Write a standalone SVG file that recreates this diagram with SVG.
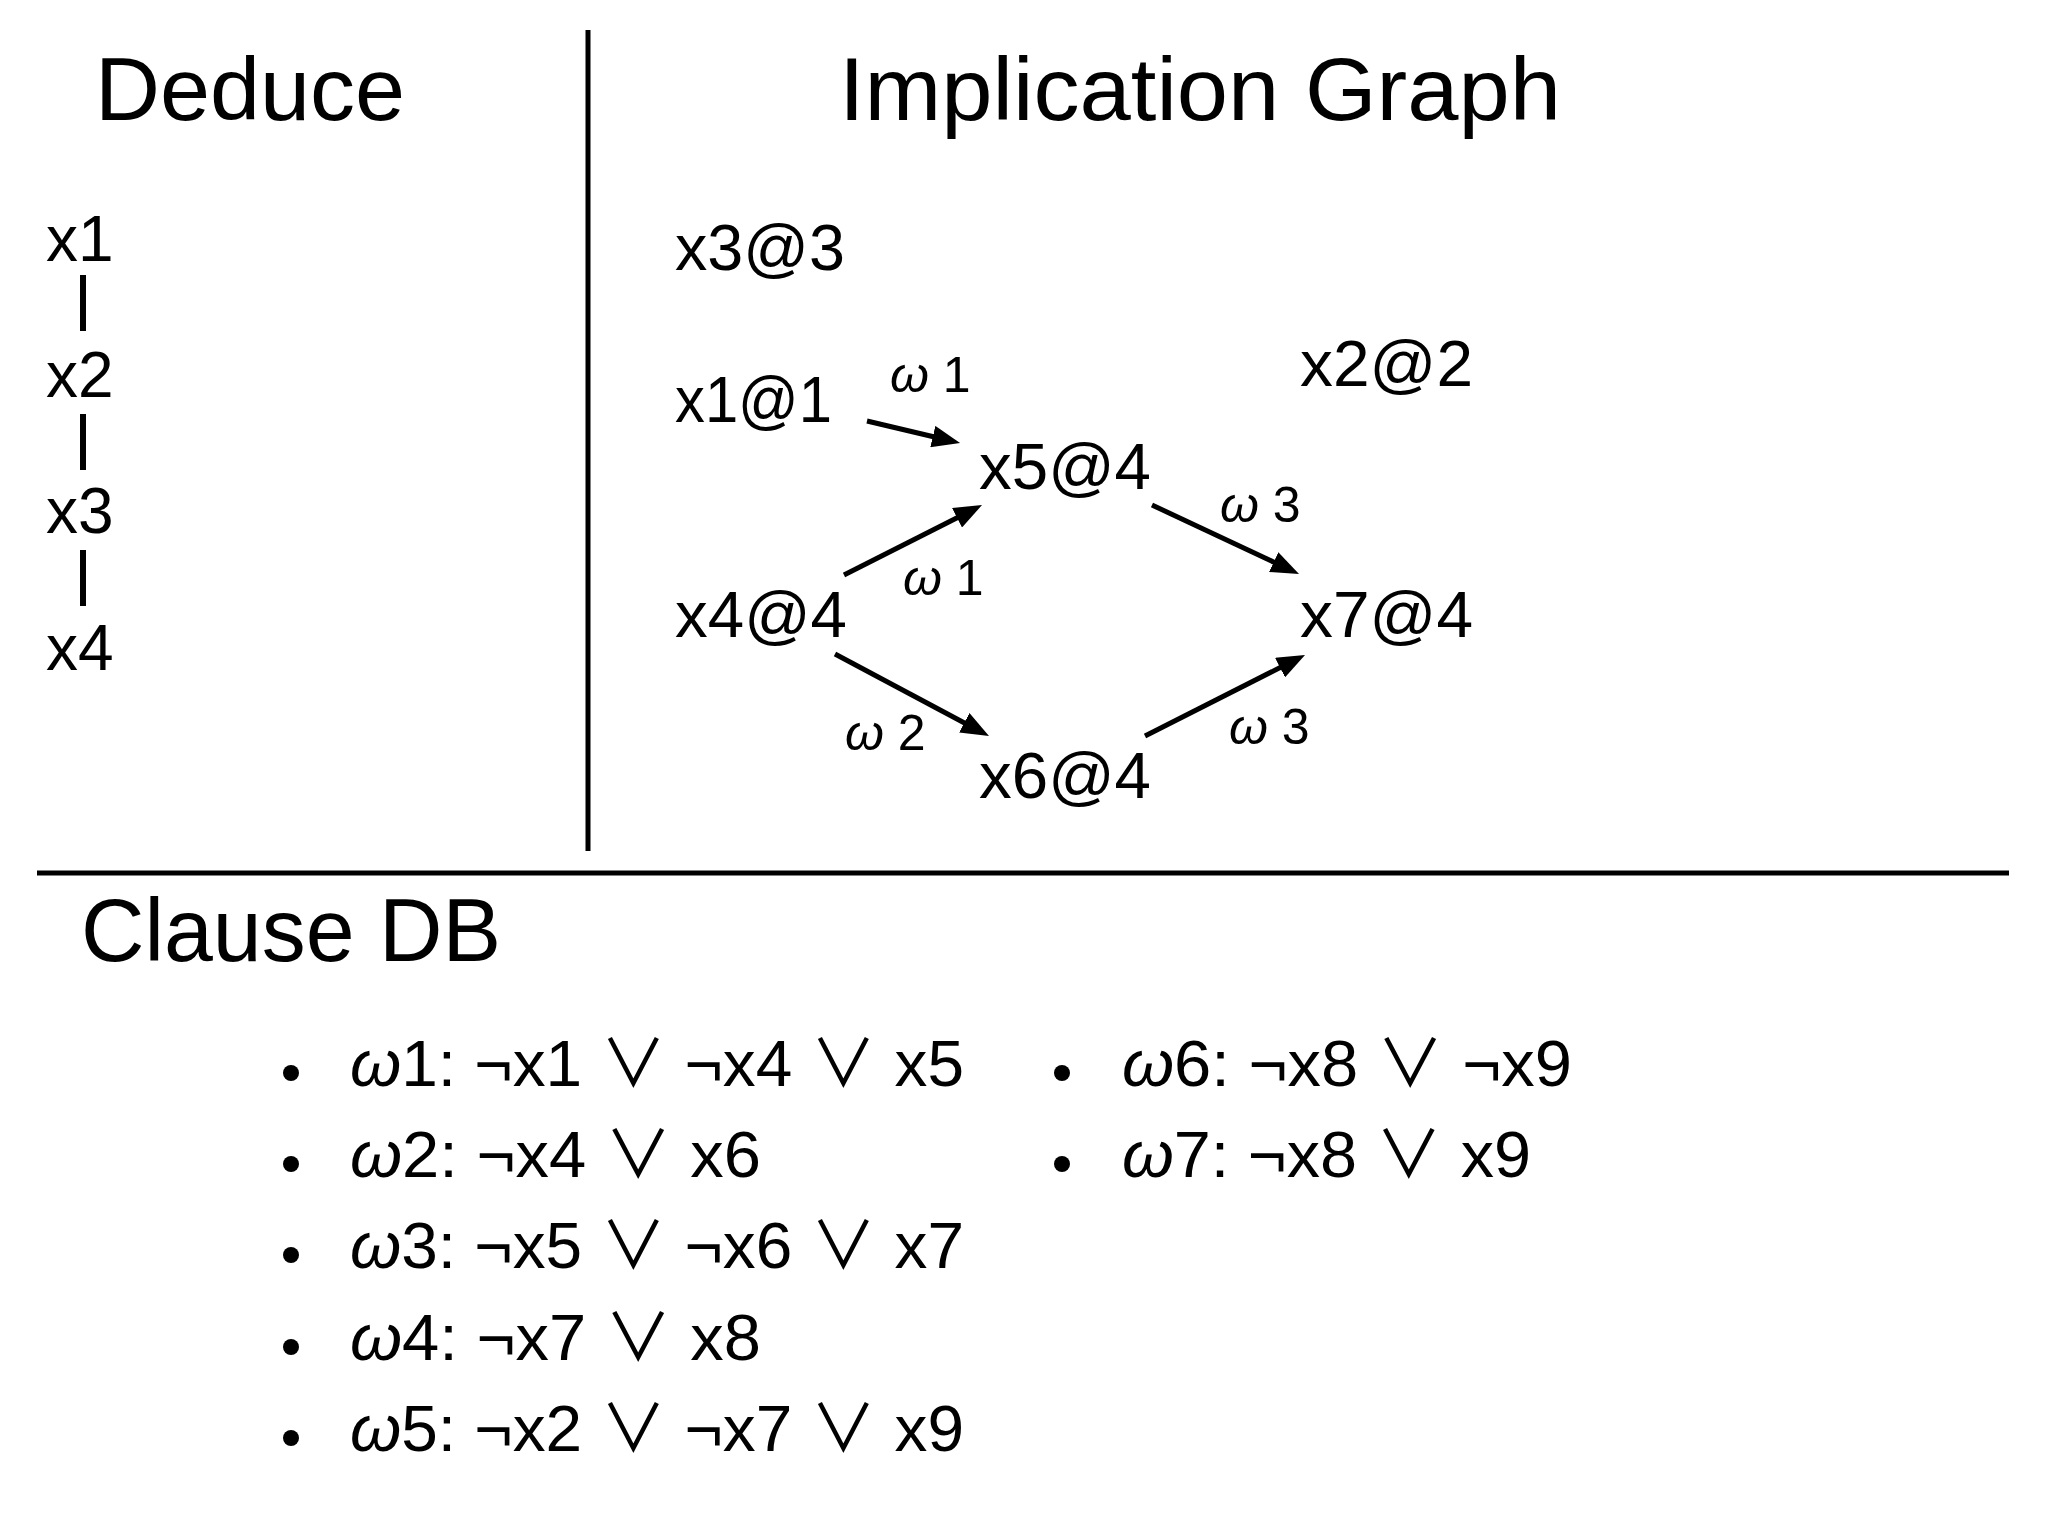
<svg xmlns="http://www.w3.org/2000/svg" width="2048" height="1536" viewBox="0 0 2048 1536">
<defs>
<style>
text{font-family:"Liberation Sans","Noto Sans CJK JP","DejaVu Sans",sans-serif;fill:#000}
.title{font-size:89px}
.node{font-size:64px}
.lbl{font-size:50px}
.clause{font-size:65px}
.w{font-style:italic}
.rule{stroke:#000;stroke-width:5;fill:none}
.edge{stroke:#000;stroke-width:5;fill:none;marker-end:url(#arr)}
.bar{stroke:#000;stroke-width:6}
</style>
<marker id="arr" markerUnits="userSpaceOnUse" markerWidth="28" markerHeight="22" refX="4" refY="11" orient="auto">
<path d="M0,0 L28,11 L0,22 z" fill="#000"/>
</marker>
</defs>
<rect width="2048" height="1536" fill="#fff"/>

<g id="frame">
<line class="rule" x1="588" y1="30" x2="588" y2="851"/>
<line class="rule" x1="37" y1="873" x2="2009" y2="873"/>
</g>

<g id="titles">
<text class="title" x="95" y="120" textLength="310" lengthAdjust="spacingAndGlyphs">Deduce</text>
<text class="title" x="839" y="120" textLength="722" lengthAdjust="spacingAndGlyphs">Implication Graph</text>
<text class="title" x="81" y="961" textLength="420" lengthAdjust="spacingAndGlyphs">Clause DB</text>
</g>

<g id="deduce">
<text class="node" x="46" y="261">x1</text>
<line class="bar" x1="83" y1="275" x2="83" y2="331"/>
<text class="node" x="46" y="397">x2</text>
<line class="bar" x1="83" y1="414" x2="83" y2="470"/>
<text class="node" x="46" y="533">x3</text>
<line class="bar" x1="83" y1="550" x2="83" y2="606"/>
<text class="node" x="46" y="670">x4</text>
</g>

<g id="connectors">
<line class="edge" x1="867" y1="421" x2="936.7" y2="437.5"/>
<line class="edge" x1="844" y1="575" x2="960.6" y2="515.9"/>
<line class="edge" x1="835" y1="654" x2="967.8" y2="724.7"/>
<line class="edge" x1="1152" y1="505" x2="1277.3" y2="563.8"/>
<line class="edge" x1="1145" y1="736" x2="1283.6" y2="665.8"/>
<text class="lbl" x="890" y="392"><tspan class="w">ω</tspan> 1</text>
<text class="lbl" x="903" y="595"><tspan class="w">ω</tspan> 1</text>
<text class="lbl" x="1220" y="522"><tspan class="w">ω</tspan> 3</text>
<text class="lbl" x="845" y="750"><tspan class="w">ω</tspan> 2</text>
<text class="lbl" x="1229" y="744"><tspan class="w">ω</tspan> 3</text>
</g>

<g id="n-x3"><text class="node" x="675" y="270" textLength="170" lengthAdjust="spacingAndGlyphs">x3@3</text></g>
<g id="n-x1"><text class="node" x="675" y="422" textLength="157" lengthAdjust="spacingAndGlyphs">x1@1</text></g>
<g id="n-x2"><text class="node" x="1300" y="386" textLength="173" lengthAdjust="spacingAndGlyphs">x2@2</text></g>
<g id="n-x5"><text class="node" x="979" y="489" textLength="172" lengthAdjust="spacingAndGlyphs">x5@4</text></g>
<g id="n-x4"><text class="node" x="675" y="637" textLength="172" lengthAdjust="spacingAndGlyphs">x4@4</text></g>
<g id="n-x7"><text class="node" x="1300" y="637" textLength="173" lengthAdjust="spacingAndGlyphs">x7@4</text></g>
<g id="n-x6"><text class="node" x="979" y="798" textLength="172" lengthAdjust="spacingAndGlyphs">x6@4</text></g>

<g id="clauses">
<circle cx="291" cy="1073" r="8"/>
<text class="clause" x="350" y="1086" textLength="614" lengthAdjust="spacingAndGlyphs"><tspan class="w">ω</tspan>1: ¬x1 ∨ ¬x4 ∨ x5</text>
<circle cx="291" cy="1164" r="8"/>
<text class="clause" x="350" y="1177" textLength="411" lengthAdjust="spacingAndGlyphs"><tspan class="w">ω</tspan>2: ¬x4 ∨ x6</text>
<circle cx="291" cy="1255" r="8"/>
<text class="clause" x="350" y="1268" textLength="614" lengthAdjust="spacingAndGlyphs"><tspan class="w">ω</tspan>3: ¬x5 ∨ ¬x6 ∨ x7</text>
<circle cx="291" cy="1347" r="8"/>
<text class="clause" x="350" y="1360" textLength="411" lengthAdjust="spacingAndGlyphs"><tspan class="w">ω</tspan>4: ¬x7 ∨ x8</text>
<circle cx="291" cy="1438" r="8"/>
<text class="clause" x="350" y="1451" textLength="614" lengthAdjust="spacingAndGlyphs"><tspan class="w">ω</tspan>5: ¬x2 ∨ ¬x7 ∨ x9</text>
<circle cx="1062" cy="1073" r="8"/>
<text class="clause" x="1122" y="1086" textLength="450" lengthAdjust="spacingAndGlyphs"><tspan class="w">ω</tspan>6: ¬x8 ∨ ¬x9</text>
<circle cx="1062" cy="1164" r="8"/>
<text class="clause" x="1122" y="1177" textLength="409" lengthAdjust="spacingAndGlyphs"><tspan class="w">ω</tspan>7: ¬x8 ∨ x9</text>
</g>
</svg>
